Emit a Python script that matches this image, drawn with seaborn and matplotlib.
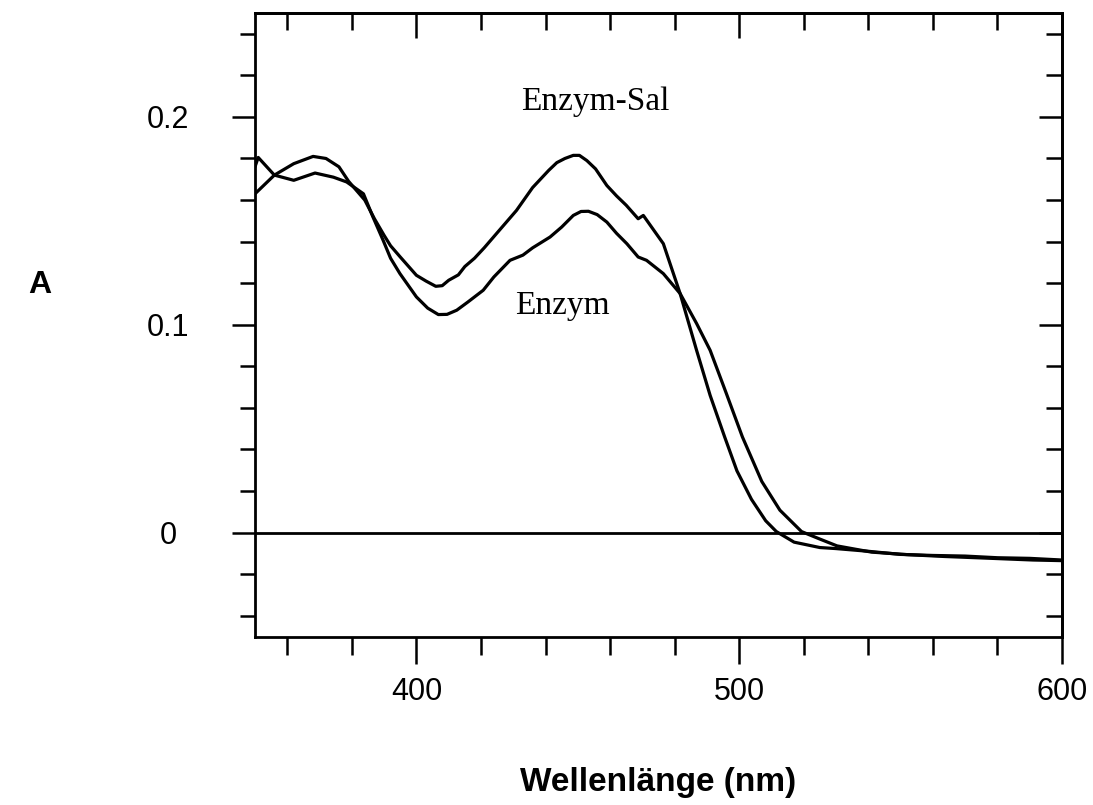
import numpy as np
import pandas as pd
import matplotlib
matplotlib.use("Agg")
import matplotlib.pyplot as plt
import seaborn as sns

# ---- data ----
wl_sal = [350, 356, 362, 368, 372, 376, 379, 384, 387, 390, 392, 395, 400, 403, 406,
          408, 410, 413, 415, 418, 421, 426, 431, 436, 441, 443.5, 446, 448.6, 450.5,
          452.8, 455.5, 459, 462, 465, 468.7, 470.3, 476.5, 481.7, 486.8, 491, 495.5,
          499.3, 503.8, 508.2, 511.5, 517, 525, 530, 540, 550, 560, 570, 580, 590, 600]
abs_sal = [0.163, 0.172, 0.1775, 0.181, 0.180, 0.176, 0.169, 0.160, 0.151, 0.143,
           0.138, 0.1326, 0.1238, 0.121, 0.1185, 0.1188, 0.1214, 0.124, 0.128, 0.132,
           0.137, 0.146, 0.155, 0.166, 0.1743, 0.178, 0.180, 0.1815, 0.1815, 0.179,
           0.175, 0.167, 0.162, 0.1575, 0.151, 0.1526, 0.139, 0.115, 0.0877, 0.066,
           0.046, 0.0297, 0.016, 0.0057, 0.0005, -0.0046, -0.0072, -0.0077, -0.009,
           -0.0105, -0.011, -0.0113, -0.0121, -0.0124, -0.0132]

wl_enz = [350, 351, 356, 362, 368.6, 374.3, 378.4, 383.6, 386.5, 389.7, 392, 394.9,
          400, 403.5, 406.8, 409.5, 412.5, 416, 420.7, 424, 429, 433, 436, 441.4, 445,
          448.6, 451, 453.3, 456, 459, 462, 465.2, 468.7, 471.3, 476.5, 481.7, 486.8,
          491, 496, 501, 507, 512.6, 519.3, 524.8, 530.3, 541, 552, 563.5, 575, 591, 600]
abs_enz = [0.176, 0.1805, 0.172, 0.1695, 0.173, 0.171, 0.1687, 0.163, 0.152, 0.1406,
           0.132, 0.1246, 0.1134, 0.108, 0.1049, 0.105, 0.107, 0.111, 0.1166, 0.123,
           0.131, 0.1335, 0.137, 0.1422, 0.147, 0.1526, 0.1545, 0.1546, 0.153, 0.1494,
           0.144, 0.139, 0.1326, 0.131, 0.1246, 0.115, 0.1006, 0.0877, 0.067, 0.046,
           0.0246, 0.0108, 0.0005, -0.003, -0.0064, -0.0094, -0.0106, -0.0115, -0.0122,
           -0.0132, -0.0135]

series_names = ["Enzym-Sal", "Enzym"]
x_major = [400, 500, 600]
y_major = [0, 0.1, 0.2]
y_major_labels = ["0", "0.1", "0.2"]
x_label = "Wellenlänge (nm)"
y_label = "A"

df = pd.concat([
    pd.DataFrame({"wl": wl_sal, "A": abs_sal, "sample": series_names[0]}),
    pd.DataFrame({"wl": wl_enz, "A": abs_enz, "sample": series_names[1]}),
])

sns.set_style("ticks")
plt.rcParams["font.family"] = ["Liberation Sans", "DejaVu Sans"]
for k in ["text.color", "axes.labelcolor", "xtick.color", "ytick.color", "axes.edgecolor"]:
    plt.rcParams[k] = "black"

fig = plt.figure(figsize=(10.93, 8.05), dpi=100)
ax = fig.add_axes([255 / 1093, 1 - 636.5 / 805, 807 / 1093, 623.5 / 805])

sns.lineplot(data=df, x="wl", y="A", hue="sample",
             palette={series_names[0]: "black", series_names[1]: "black"},
             estimator=None, legend=False, lw=2.3, ax=ax)

ax.axhline(0, color="black", lw=2.0, zorder=1)

ax.set_xlim(350, 600)
ax.set_ylim(-0.05, 0.25)

xminor = np.arange(360, 600, 20)
yminor = np.round(np.arange(-0.04, 0.241, 0.02), 3)
ax.set_xticks(x_major)
ax.set_xticks(xminor, minor=True)
ax.set_yticks(y_major)
ax.set_yticklabels(y_major_labels)
ax.set_yticks(yminor, minor=True)

for s in ax.spines.values():
    s.set_linewidth(2.0)
    s.set_color("black")
    s.set_visible(True)

ax.tick_params(axis="x", which="major", direction="out", length=19.5, width=1.8,
               labelsize=22, pad=9.5, colors="black")
ax.tick_params(axis="x", which="minor", direction="out", length=13, width=1.8)
ax.tick_params(axis="y", which="major", direction="out", length=16.5, width=1.8,
               labelsize=22, pad=46, colors="black")
ax.tick_params(axis="y", which="minor", direction="out", length=11, width=1.8)
for lbl in ax.get_yticklabels():
    lbl.set_ha("center")

secx = ax.secondary_xaxis("top")
secx.set_xticks(x_major)
secx.set_xticks(xminor, minor=True)
secx.tick_params(axis="x", which="major", direction="in", length=18, width=1.8, labeltop=False)
secx.tick_params(axis="x", which="minor", direction="in", length=12, width=1.8, labeltop=False)
secx.spines["top"].set_linewidth(2.0)

secy = ax.secondary_yaxis("right")
secy.set_yticks(y_major)
secy.set_yticks(yminor, minor=True)
secy.tick_params(axis="y", which="major", direction="in", length=16.5, width=1.8, labelright=False)
secy.tick_params(axis="y", which="minor", direction="in", length=11.5, width=1.8, labelright=False)
secy.spines["right"].set_linewidth(2.0)

ax.set_xlabel(x_label, fontsize=24, fontweight="bold")
ax.xaxis.set_label_coords(0.5, (636.5 - 782) / 623.5)
ax.xaxis.label.set_va("center")
ax.set_ylabel("")
fig.text(40 / 1093, 1 - 285 / 805, y_label, fontsize=23, fontweight="bold",
         ha="center", va="center")

serif = ["Liberation Serif", "DejaVu Serif"]
ax.text(455.3, 0.2075, series_names[0], family=serif, fontsize=24, ha="center", va="center")
ax.text(445.1, 0.109, series_names[1], family=serif, fontsize=24, ha="center", va="center")

fig.savefig("out.png", dpi=100, facecolor="white")
